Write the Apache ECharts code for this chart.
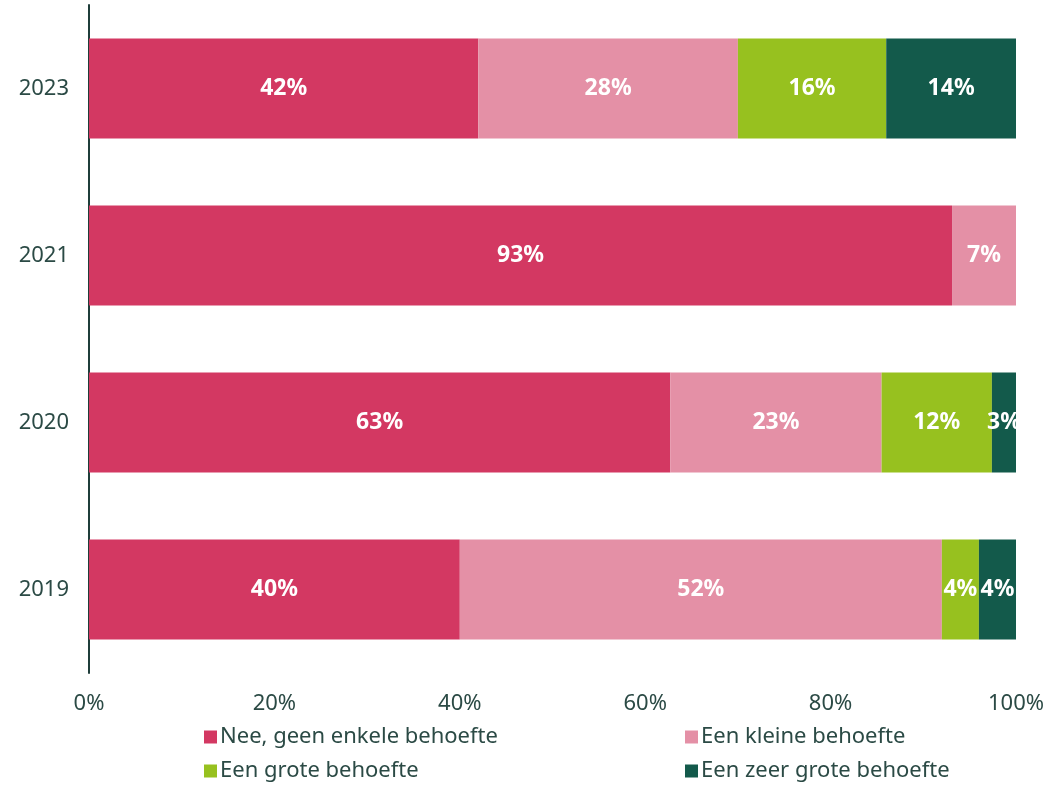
<!DOCTYPE html>
<html>
<head>
<meta charset="utf-8">
<script src="https://cdn.jsdelivr.net/npm/echarts@6/dist/echarts.min.js"></script>
<style>
html, body { margin: 0; padding: 0; background: #fff; }
#chart { width: 1050px; height: 785px; }
</style>
</head>
<body>
<div id="chart"></div>
<script>
// jaren, van onder naar boven
const years = ['2019', '2020', '2021', '2023'];
const seriesNames = ['Nee, geen enkele behoefte', 'Een kleine behoefte', 'Een grote behoefte', 'Een zeer grote behoefte'];
const geenBehoefte = [40, 62.7, 93.1, 42];
const kleineBehoefte = [52, 22.8, 6.9, 28];
const groteBehoefte = [4, 11.9, 0, 16];
const zeerGroteBehoefte = [4, 2.6, 0, 14];
const xTicks = [0, 20, 40, 60, 80, 100];
const colors = ['#d33862', '#e490a6', '#97c11f', '#135a4b'];

const textColor = '#2b4a45';
const font = '"Noto Sans", sans-serif';

const chart = echarts.init(document.getElementById('chart'));
const allData = [geenBehoefte, kleineBehoefte, groteBehoefte, zeerGroteBehoefte];

// legenda: 2 kolommen, 2 rijen
const legendPos = [[199, 721], [680, 721], [199, 755], [680, 755]];
function makeLegend(i) {
    return {
        data: [seriesNames[i]],
        left: legendPos[i][0],
        top: legendPos[i][1],
        itemWidth: 13,
        itemHeight: 13,
        icon: 'rect',
        textStyle: { color: textColor, fontFamily: font, fontSize: 22, padding: [0, 0, 0, -2] }
    };
}

const option = {
    animation: false,
    grid: { left: 89, right: 34, top: 5, bottom: 112 },
    xAxis: {
        type: 'value',
        min: xTicks[0],
        max: xTicks[xTicks.length - 1],
        interval: 20,
        axisLine: { show: false },
        axisTick: { show: false },
        splitLine: { show: false },
        axisLabel: {
            formatter: '{value}%',
            color: textColor,
            fontFamily: font,
            fontSize: 22,
            margin: 20
        }
    },
    yAxis: {
        type: 'category',
        data: years,
        axisLine: { show: true, lineStyle: { color: '#1f3d3a', width: 2 } },
        axisTick: { show: false },
        axisLabel: {
            color: textColor,
            fontFamily: font,
            fontSize: 22,
            margin: 20
        }
    },
    legend: [0, 1, 2, 3].map(makeLegend),
    series: seriesNames.map(function (name, i) {
        return {
            name: name,
            type: 'bar',
            stack: 'total',
            barCategoryGap: '40%',
            itemStyle: { color: colors[i] },
            label: {
                show: true,
                position: 'inside',
                color: '#fff',
                fontFamily: font,
                fontWeight: 'bold',
                fontSize: 23,
                formatter: function (p) {
                    return p.value > 0 ? Math.round(p.value) + '%' : '';
                }
            },
            data: allData[i]
        };
    })
};
chart.setOption(option);
</script>
</body>
</html>
